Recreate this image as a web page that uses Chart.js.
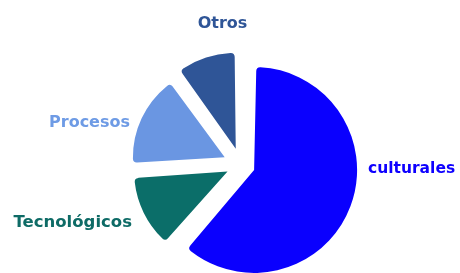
<!DOCTYPE html>
<html>
<head>
<meta charset="utf-8">
<style>
  html, body { margin: 0; padding: 0; background: #ffffff; overflow: hidden; }
  #wrap { width: 460px; height: 273px; position: relative; }
</style>
<script src="https://cdn.jsdelivr.net/npm/chart.js"></script>
</head>
<body>
<div id="wrap"><canvas id="c" width="460" height="273"></canvas></div>
<script>
// ---- data ----
const categories = ['culturales', 'Tecnológicos', 'Procesos', 'Otros'];
const shares = [61.5, 12.5, 16, 10];

// ---- styles ----
const sliceColors = ['#0A00FE', '#0B6E69', '#6A96E2', '#2F5597'];
const labelColors = ['#0E00FF', '#0E6B66', '#6E9BE5', '#2F5597'];
const sliceOffsets = [56, 60, 72, 68];

const outsideLabels = {
  id: 'outsideLabels',
  afterDatasetsDraw(chart, args, opts) {
    const meta = chart.getDatasetMeta(0);
    const ctx = chart.ctx;
    ctx.save();
    meta.data.forEach((arc, i) => {
      const a = opts.anchors[i];
      ctx.font = 'bold ' + a.size + 'px "DejaVu Sans"';
      ctx.fillStyle = opts.colors[i];
      ctx.textAlign = a.align;
      ctx.textBaseline = 'alphabetic';
      ctx.fillText(chart.data.labels[i], arc.x + a.dx, arc.y + a.dy);
    });
    ctx.restore();
  }
};

new Chart(document.getElementById('c'), {
  type: 'pie',
  data: {
    labels: categories,
    datasets: [{
      data: shares,
      backgroundColor: sliceColors,
      borderWidth: 0,
      borderRadius: 4,
      offset: sliceOffsets,
      radius: 89,
      clip: false
    }]
  },
  options: {
    responsive: false,
    animation: false,
    devicePixelRatio: 1,
    layout: { padding: { left: 22, right: 0, top: 57, bottom: 0 } },
    plugins: {
      legend: { display: false },
      tooltip: { enabled: false },
      outsideLabels: {
        colors: labelColors,
        anchors: [
          { dx: 127, dy: 8, align: 'left', size: 15.5 },
          { dx: -109, dy: 62, align: 'right', size: 16.5 },
          { dx: -111, dy: -38, align: 'right', size: 16 },
          { dx: -18.5, dy: -137, align: 'center', size: 16 }
        ]
      }
    }
  },
  plugins: [outsideLabels]
});
</script>
</body>
</html>
